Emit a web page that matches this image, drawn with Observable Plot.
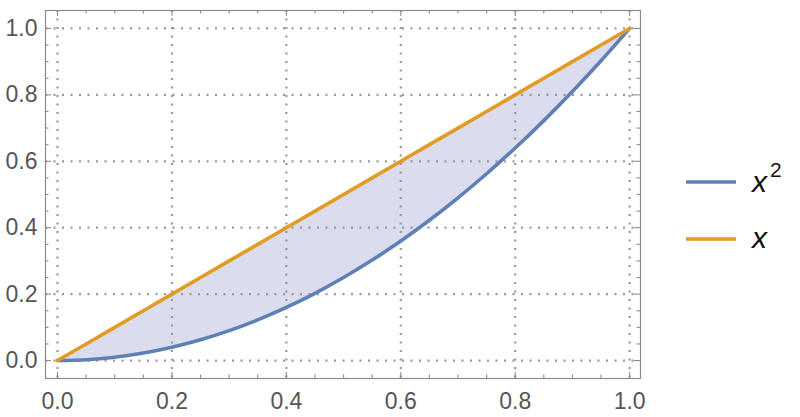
<!DOCTYPE html>
<html>
<head>
<meta charset="utf-8">
<script src="https://cdn.jsdelivr.net/npm/d3@7"></script>
<script src="https://cdn.jsdelivr.net/npm/@observablehq/plot@0.6"></script>
<style>
  html, body { margin: 0; padding: 0; background: #fff; }
  #wrap { position: relative; width: 800px; height: 417px; }
  #legend { position: absolute; left: 0; top: 0; }
</style>
</head>
<body>
<div id="wrap"></div>
<script>
// data
const xs   = [0, 0.05, 0.1, 0.15, 0.2, 0.25, 0.3, 0.35, 0.4, 0.45, 0.5, 0.55, 0.6, 0.65, 0.7, 0.75, 0.8, 0.85, 0.9, 0.95, 1];
const sqY  = [0, 0.0025, 0.01, 0.0225, 0.04, 0.0625, 0.09, 0.1225, 0.16, 0.2025, 0.25, 0.3025, 0.36, 0.4225, 0.49, 0.5625, 0.64, 0.7225, 0.81, 0.9025, 1];
const linY = [0, 0.05, 0.1, 0.15, 0.2, 0.25, 0.3, 0.35, 0.4, 0.45, 0.5, 0.55, 0.6, 0.65, 0.7, 0.75, 0.8, 0.85, 0.9, 0.95, 1];
const majorTicks = [0, 0.2, 0.4, 0.6, 0.8, 1.0];
const minorTicks = [0.05, 0.1, 0.15, 0.25, 0.3, 0.35, 0.45, 0.5, 0.55, 0.65, 0.7, 0.75, 0.85, 0.9, 0.95];
const seriesNames = ["x²", "x"];
const seriesColors = ["#5e81b5", "#e19c24"];

const data = xs.map((x, i) => ({x, sq: sqY[i], lin: linY[i]}));

const W = 800, H = 417, mL = 45, mR = 160, mT = 10, mB = 39;
const fw = W - mL - mR, fh = H - mT - mB;
const frameColor = "#8c8c8c";
const fmt = d3.format(".1f");

function inwardTicks(ticks, len) {
  const o = {stroke: frameColor, strokeWidth: 1.1};
  return [
    Plot.ruleX(ticks, {x: d => d, insetTop: fh - len, ...o}),
    Plot.ruleX(ticks, {x: d => d, insetBottom: fh - len, ...o}),
    Plot.ruleY(ticks, {y: d => d, insetRight: fw - len, ...o}),
    Plot.ruleY(ticks, {y: d => d, insetLeft: fw - len, ...o})
  ];
}

const chart = Plot.plot({
  width: W,
  height: H,
  marginLeft: mL,
  marginRight: mR,
  marginTop: mT,
  marginBottom: mB,
  style: {fontFamily: "'Liberation Sans', Arial, sans-serif", fontSize: "23px", color: "#555", background: "#fff"},
  x: {domain: [-0.021, 1.019]},
  y: {domain: [-0.054, 1.054]},
  marks: [
    Plot.areaY(data, {x: "x", y1: "sq", y2: "lin", fill: "#dcdcef", curve: "catmull-rom"}),
    Plot.gridX(majorTicks, {stroke: "#999", strokeOpacity: 1, strokeWidth: 2.2, strokeDasharray: "2,6.5"}),
    Plot.gridY(majorTicks, {stroke: "#999", strokeOpacity: 1, strokeWidth: 2.2, strokeDasharray: "2,6.5"}),
    Plot.line(data, {x: "x", y: "sq", stroke: seriesColors[0], strokeWidth: 3.6, curve: "catmull-rom"}),
    Plot.line(data, {x: "x", y: "lin", stroke: seriesColors[1], strokeWidth: 3.6}),
    ...inwardTicks(majorTicks, 6),
    ...inwardTicks(minorTicks, 3.5),
    Plot.frame({stroke: frameColor, strokeWidth: 1.2}),
    // labels
    Plot.axisX(majorTicks, {anchor: "bottom", tickSize: 0, tickPadding: 14, tickFormat: fmt, fill: "#555", label: null}),
    Plot.axisY(majorTicks, {anchor: "left", tickSize: 0, tickPadding: 8, tickFormat: fmt, fill: "#555", label: null})
  ]
});

const wrap = document.getElementById("wrap");
wrap.appendChild(chart);

// legend (SVG overlay)
const svgNS = "http://www.w3.org/2000/svg";
const leg = document.createElementNS(svgNS, "svg");
leg.setAttribute("id", "legend");
leg.setAttribute("width", W);
leg.setAttribute("height", H);
const rows = [{y: 182, base: 192}, {y: 239, base: 248}];
rows.forEach((r, i) => {
  const ln = document.createElementNS(svgNS, "line");
  ln.setAttribute("x1", 686); ln.setAttribute("x2", 736);
  ln.setAttribute("y1", r.y); ln.setAttribute("y2", r.y);
  ln.setAttribute("stroke", seriesColors[i]);
  ln.setAttribute("stroke-width", 3.4);
  leg.appendChild(ln);
  const t = document.createElementNS(svgNS, "text");
  t.setAttribute("x", 752); t.setAttribute("y", r.base);
  t.setAttribute("font-family", "'Liberation Sans', Arial, sans-serif");
  t.setAttribute("fill", "#111");
  const name = seriesNames[i];
  const main = document.createElementNS(svgNS, "tspan");
  main.setAttribute("font-size", "30px");
  main.setAttribute("font-style", "italic");
  main.textContent = name.replace("²", "");
  t.appendChild(main);
  if (name.includes("²")) {
    const sup = document.createElementNS(svgNS, "tspan");
    sup.setAttribute("font-size", "21px");
    sup.setAttribute("dx", "3");
    sup.setAttribute("dy", "-15");
    sup.textContent = "2";
    t.appendChild(sup);
  }
  leg.appendChild(t);
});
wrap.appendChild(leg);
</script>
</body>
</html>
